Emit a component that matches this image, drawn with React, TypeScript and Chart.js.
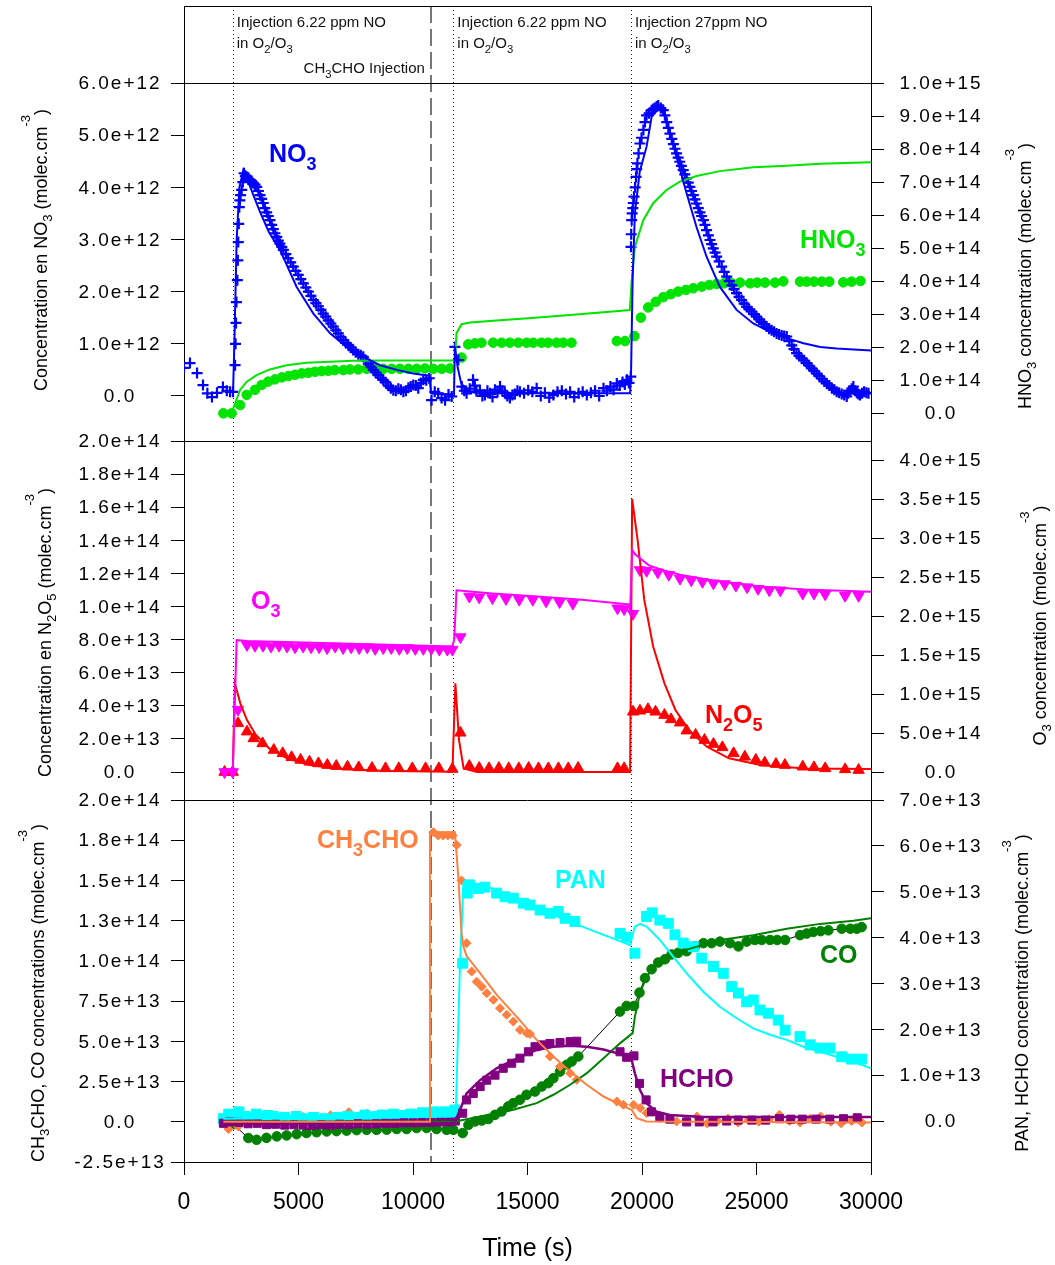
import React, { useEffect, useRef } from "react";
import { Chart, registerables } from "chart.js";

Chart.register(...registerables);

const FONT = '"Liberation Sans", Arial, Helvetica, sans-serif';

// ---------------- axes / ticks ----------------
const TIME_MIN = 0;
const TIME_MAX = 30000;
const TIME_TICKS = [0, 5000, 10000, 15000, 20000, 25000, 30000];
const EVENTS_DOTTED = [2130, 11760, 19515];
const EVENTS_DASHED = [10780];

// tick values are in axis units; the multiplier gives molec.cm-3
const NO3_TICKS = [0, 1, 2, 3, 4, 5, 6]; // x1e12
const HNO3_TICKS = [0, 1, 2, 3, 4, 5, 6, 7, 8, 9, 10]; // x1e14
const N2O5_TICKS = [0, 2, 4, 6, 8, 10, 12, 14, 16, 18, 20]; // x1e13
const O3_TICKS = [0, 0.5, 1, 1.5, 2, 2.5, 3, 3.5, 4]; // x1e15
const CHO_TICKS = [-2.5, 0, 2.5, 5, 7.5, 10, 12.5, 15, 17.5, 20]; // x1e13
const PAN_TICKS = [0, 1, 2, 3, 4, 5, 6, 7]; // x1e13

// ---------------- data: [time (s), value in axis units] ----------------
// NO3 (x1e12 molec/cm3)
const NO3_MEAS: [number, number][] = [
  [0, 0.54], [260, 0.63], [570, 0.44], [830, 0.21], [1020, 0.05], [1220, -0.02], [1440, 0.06], [1700, 0.17],
  [1870, 0.1], [2010, 0.08], [2140, 0.08], [2230, 0.59], [2250, 1.0], [2270, 1.4], [2290, 1.8], [2330, 2.22],
  [2350, 2.6], [2370, 2.95], [2390, 3.3], [2415, 3.62], [2440, 3.75], [2470, 3.85], [2520, 3.95], [2570, 4.1],
  [2620, 4.27], [2680, 4.22], [2750, 4.2], [2810, 4.15], [2880, 4.14], [2950, 4.12], [3030, 4.08], [3100, 4.05],
  [3175, 4.01], [3250, 3.93], [3320, 3.85], [3390, 3.78], [3460, 3.7], [3530, 3.6], [3610, 3.52], [3680, 3.45],
  [3755, 3.37], [3830, 3.28], [3900, 3.2], [3970, 3.12], [4050, 3.05], [4120, 2.98], [4190, 2.92], [4270, 2.86],
  [4340, 2.8], [4450, 2.72], [4550, 2.64], [4660, 2.56], [4770, 2.48], [4880, 2.4], [4990, 2.32], [5100, 2.24],
  [5210, 2.16], [5320, 2.08], [5430, 2.0], [5540, 1.92], [5650, 1.84], [5760, 1.78], [5870, 1.72], [5980, 1.65],
  [6080, 1.58], [6190, 1.52], [6300, 1.45], [6410, 1.39], [6520, 1.33], [6630, 1.26], [6740, 1.2], [6850, 1.13],
  [6960, 1.07], [7060, 1.02], [7170, 0.98], [7280, 0.93], [7390, 0.88], [7500, 0.84], [7610, 0.8], [7720, 0.78],
  [7830, 0.75], [7940, 0.68], [8050, 0.62], [8160, 0.56], [8270, 0.5], [8370, 0.45], [8480, 0.4], [8590, 0.35],
  [8700, 0.31], [8810, 0.26], [8920, 0.2], [9030, 0.15], [9140, 0.11], [9250, 0.1], [9360, 0.14], [9470, 0.12],
  [9580, 0.08], [9690, 0.1], [9800, 0.16], [9900, 0.18], [10010, 0.21], [10120, 0.2], [10230, 0.15],
  [10340, 0.25], [10450, 0.31], [10580, 0.3], [10710, 0.34], [10810, -0.08], [10950, 0.08], [11100, 0.05],
  [11250, -0.04], [11400, -0.08], [11550, 0.03], [11690, -0.01], [11830, 0.94], [11980, 0.69], [12130, 0.18],
  [12240, 0.1], [12340, 0.05], [12480, 0.14], [12620, 0.31], [12700, 0.2], [12770, 0.09], [12920, 0.11],
  [13030, 0.0], [13140, 0.02], [13250, 0.1], [13360, 0.05], [13470, -0.02], [13580, 0.12], [13690, 0.08],
  [13800, 0.18], [13900, 0.1], [14010, 0.06], [14120, 0.0], [14230, -0.04], [14340, 0.02], [14450, 0.04],
  [14560, 0.1], [14670, 0.08], [14850, 0.05], [15030, 0.11], [15210, 0.08], [15400, 0.15], [15580, 0.0],
  [15760, 0.06], [15950, -0.03], [16130, 0.02], [16310, 0.08], [16500, 0.1], [16680, 0.04], [16860, 0.08],
  [17040, -0.02], [17230, 0.05], [17410, 0.08], [17590, 0.02], [17770, 0.06], [17950, 0.1], [18130, 0.0],
  [18320, 0.15], [18470, 0.1], [18620, 0.18], [18760, 0.12], [18900, 0.24], [19030, 0.2], [19150, 0.27],
  [19250, 0.22], [19340, 0.31], [19430, 0.25], [19510, 0.37], [19520, 2.86], [19530, 3.1], [19550, 3.37],
  [19570, 3.5], [19600, 3.6], [19620, 3.7], [19650, 3.82], [19700, 4.0], [19740, 4.2], [19770, 4.35],
  [19800, 4.46], [19850, 4.65], [19910, 4.84], [19980, 4.95], [20060, 5.1], [20130, 5.25], [20200, 5.38],
  [20310, 5.42], [20420, 5.48], [20490, 5.5], [20560, 5.52], [20640, 5.55], [20710, 5.57], [20820, 5.52],
  [20930, 5.48], [21000, 5.38], [21080, 5.25], [21150, 5.14], [21220, 5.03], [21300, 4.93], [21370, 4.83],
  [21440, 4.74], [21510, 4.65], [21580, 4.57], [21650, 4.49], [21720, 4.41], [21800, 4.33], [21870, 4.25],
  [21950, 4.17], [22020, 4.09], [22090, 4.01], [22160, 3.93], [22240, 3.85], [22310, 3.77], [22380, 3.69],
  [22460, 3.6], [22530, 3.52], [22600, 3.45], [22680, 3.37], [22750, 3.28], [22820, 3.18], [22900, 3.08],
  [22970, 2.99], [23040, 2.91], [23110, 2.83], [23190, 2.75], [23260, 2.67], [23370, 2.58], [23480, 2.48],
  [23590, 2.38], [23700, 2.29], [23810, 2.2], [23920, 2.12], [24020, 2.05], [24130, 1.97], [24240, 1.9],
  [24350, 1.84], [24460, 1.77], [24570, 1.71], [24680, 1.66], [24790, 1.62], [24900, 1.57], [25000, 1.52],
  [25110, 1.47], [25220, 1.42], [25330, 1.38], [25440, 1.33], [25550, 1.29], [25660, 1.26], [25770, 1.23],
  [25880, 1.2], [25990, 1.18], [26100, 1.16], [26210, 1.15], [26320, 1.14], [26430, 1.05], [26540, 0.97],
  [26640, 0.9], [26750, 0.82], [26860, 0.77], [26970, 0.72], [27080, 0.68], [27190, 0.63], [27300, 0.58],
  [27410, 0.53], [27520, 0.48], [27630, 0.43], [27740, 0.38], [27850, 0.33], [27960, 0.28], [28070, 0.24],
  [28180, 0.2], [28290, 0.15], [28400, 0.12], [28500, 0.08], [28610, 0.06], [28720, 0.04], [28830, 0.02],
  [28940, -0.01], [29000, 0.05], [29090, 0.1], [29160, 0.14], [29230, 0.18], [29300, 0.1], [29380, 0.06],
  [29450, 0.04], [29520, 0.02], [29610, 0.05], [29700, 0.08], [29800, 0.06], [29890, 0.05],
];
const NO3_MODEL: [number, number][] = [
  [2140, 0.05], [2200, 1.0], [2300, 3.0], [2420, 4.0], [2590, 4.33], [2900, 4.0], [3300, 3.55], [3700, 3.15],
  [4190, 2.8], [4920, 2.09], [5650, 1.58], [6380, 1.2], [7100, 0.94], [7830, 0.75], [8560, 0.59], [9290, 0.5],
  [10010, 0.43], [10710, 0.39], [10790, 0.05], [11790, 0.02], [11830, 0.95], [11950, 0.55], [12100, 0.25],
  [12350, 0.1], [12800, 0.05], [19480, 0.05], [19520, 0.4], [19590, 2.22], [19690, 3.5], [19900, 4.3],
  [20200, 4.78], [20420, 5.35], [20780, 5.54], [21070, 5.29], [21510, 4.58], [21950, 3.88], [22380, 3.24],
  [22820, 2.67], [23400, 2.09], [24130, 1.65], [24860, 1.39], [25590, 1.23], [26320, 1.11], [27050, 1.01],
  [27780, 0.94], [28500, 0.91], [30000, 0.87],
];
// HNO3 (x1e14)
const HNO3_MEAS: [number, number][] = [
  [1720, -0.01], [2080, -0.01], [2450, 0.24], [2740, 0.55], [3100, 0.7], [3390, 0.85], [3680, 0.95], [3970, 1.02],
  [4270, 1.08], [4560, 1.12], [4850, 1.16], [5140, 1.2], [5430, 1.22], [5720, 1.25], [6010, 1.27], [6300, 1.28],
  [6590, 1.3], [6960, 1.3], [7250, 1.32], [7610, 1.32], [7980, 1.34], [8340, 1.34], [8700, 1.34], [9070, 1.34],
  [9430, 1.34], [9800, 1.34], [10160, 1.34], [10520, 1.35], [10880, 1.34], [11250, 1.34], [11610, 1.35],
  [12120, 1.68], [12410, 2.08], [12700, 2.11], [12990, 2.13], [13500, 2.13], [13870, 2.13], [14230, 2.13],
  [14600, 2.13], [14960, 2.13], [15250, 2.13], [15610, 2.13], [15900, 2.13], [16270, 2.13], [16560, 2.13],
  [16920, 2.13], [18900, 2.18], [19260, 2.18], [19670, 2.33], [19950, 2.89], [20270, 3.2], [20600, 3.37],
  [20930, 3.51], [21260, 3.6], [21580, 3.68], [21920, 3.73], [22240, 3.78], [22610, 3.83], [22940, 3.88],
  [23260, 3.91], [23580, 3.93], [23910, 3.93], [24280, 3.95], [24720, 3.93], [25030, 3.95], [25370, 3.95],
  [25810, 3.95], [26170, 3.99], [26900, 3.98], [27190, 3.98], [27510, 3.98], [27850, 3.98], [28180, 3.98],
  [28790, 3.96], [29150, 3.98], [29540, 4.0],
];
const HNO3_MODEL: [number, number][] = [
  [2140, 0.0], [2150, 0.14], [2450, 0.7], [2740, 0.95], [3170, 1.15], [3750, 1.32], [4480, 1.45], [5350, 1.52],
  [6370, 1.55], [7390, 1.58], [8560, 1.59], [11830, 1.59], [11900, 2.42], [12120, 2.69], [12490, 2.74],
  [13650, 2.8], [15040, 2.87], [17000, 2.98], [19470, 3.12], [19550, 4.03], [19690, 5.04], [20060, 5.85],
  [20480, 6.35], [21070, 6.76], [21650, 7.01], [22380, 7.18], [23400, 7.33], [24860, 7.45], [26320, 7.49],
  [27780, 7.55], [30000, 7.6],
];
// N2O5 (x1e13)
const N2O5_MEAS: [number, number][] = [
  [1770, 0], [2130, 0], [2360, 2.94], [2750, 2.44], [3040, 2.03], [3430, 1.73], [3920, 1.33], [4310, 1.13],
  [4700, 0.89], [5090, 0.73], [5480, 0.62], [5870, 0.52], [6260, 0.42], [6650, 0.36], [7140, 0.32], [7630, 0.28],
  [8210, 0.24], [8800, 0.22], [9380, 0.22], [9970, 0.22], [10550, 0.22], [11130, 0.22], [11720, 0.18],
  [12070, 2.37], [12460, 0.36], [12890, 0.24], [13320, 0.22], [13750, 0.24], [14180, 0.22], [14620, 0.22],
  [15050, 0.24], [15480, 0.22], [15910, 0.22], [16350, 0.22], [16780, 0.22], [17210, 0.24], [18930, 0.22],
  [19220, 0.22], [19610, 3.64], [19910, 3.7], [20260, 3.79], [20590, 3.64], [20980, 3.44], [21270, 3.18],
  [21660, 2.98], [21950, 2.5], [22340, 2.24], [22730, 1.93], [23120, 1.69], [23510, 1.49], [24000, 1.13],
  [24490, 0.92], [24970, 0.73], [25360, 0.56], [25850, 0.48], [26240, 0.42], [27020, 0.32], [27510, 0.28],
  [28000, 0.22], [28870, 0.16], [29460, 0.12],
];
const N2O5_MODEL: [number, number][] = [
  [2130, 0], [2220, 5.36], [2460, 4.15], [2750, 3.14], [3140, 2.24], [3720, 1.43], [4500, 0.83], [5480, 0.42],
  [6650, 0.22], [8600, 0.08], [11720, 0.02], [11850, 5.36], [12010, 1.93], [12210, 0.22], [12800, 0.0],
  [19480, 0.0], [19570, 16.5], [19810, 14.0], [20100, 10.4], [20490, 7.57], [20980, 5.36], [21460, 3.75],
  [22050, 2.54], [22830, 1.53], [23800, 0.83], [25170, 0.42], [27120, 0.22], [30000, 0.18],
];
// O3 (x1e15)
const O3_MEAS: [number, number][] = [
  [1770, 0], [2130, 0], [2360, 0.8], [2750, 1.63], [3100, 1.62], [3450, 1.62], [3800, 1.61], [4150, 1.62],
  [4500, 1.61], [4850, 1.6], [5200, 1.61], [5550, 1.6], [5900, 1.6], [6250, 1.59], [6600, 1.61], [6950, 1.59],
  [7300, 1.6], [7650, 1.59], [8000, 1.6], [8350, 1.58], [8700, 1.59], [9050, 1.59], [9400, 1.58], [9750, 1.59],
  [10100, 1.58], [10450, 1.58], [10800, 1.58], [11150, 1.57], [11500, 1.57], [11720, 1.57], [12070, 1.73],
  [12460, 2.25], [12890, 2.24], [13470, 2.23], [14060, 2.22], [14640, 2.21], [15230, 2.21], [15810, 2.19],
  [16400, 2.18], [16980, 2.16], [18930, 2.1], [19220, 2.09], [19610, 2.03], [19910, 2.59], [20200, 2.58],
  [20690, 2.56], [21170, 2.53], [21660, 2.48], [22150, 2.46], [22640, 2.44], [23120, 2.42], [23610, 2.41],
  [24100, 2.39], [24590, 2.37], [25070, 2.35], [25560, 2.33], [26040, 2.33], [27020, 2.29], [27510, 2.29],
  [28000, 2.28], [28870, 2.26], [29460, 2.26],
];
const O3_MODEL: [number, number][] = [
  [2130, 0], [2220, 0.9], [2300, 1.69], [2750, 1.68], [11720, 1.61], [11800, 1.7], [11900, 2.33], [13470, 2.29],
  [15420, 2.25], [17370, 2.21], [19420, 2.15], [19480, 2.06], [19570, 2.85], [19670, 2.8], [19910, 2.74],
  [20300, 2.65], [20880, 2.59], [21660, 2.53], [23220, 2.45], [25170, 2.38], [27120, 2.34], [30000, 2.31],
];
// CH3CHO (x1e13, left axis)
const CH3CHO_MEAS: [number, number][] = [
  [1720, 0.0], [1940, -0.45], [2370, -0.29], [2800, 0.1], [3200, 0.2], [3600, 0.1], [4000, 0.3], [4400, 0.2],
  [4800, 0.2], [5200, 0.3], [5600, 0.1], [6000, 0.2], [6400, 0.4], [6800, 0.3], [7200, 0.6], [7600, 0.3],
  [8000, 0.5], [8400, 0.3], [8800, 0.4], [9200, 0.3], [9600, 0.4], [10000, 0.3], [10400, 0.4], [10650, 0.4],
  [10890, 18.0], [11100, 17.8], [11310, 17.8], [11520, 17.8], [11730, 17.8], [11910, 17.2], [12120, 15.0],
  [12340, 11.1], [12560, 9.34], [12780, 8.71], [13000, 8.4], [13220, 7.99], [13510, 7.58], [13800, 7.06],
  [14090, 6.65], [14380, 6.23], [14670, 5.71], [14970, 5.51], [15110, 5.45], [15550, 4.68], [15980, 4.06],
  [16420, 3.43], [16860, 3.02], [17150, 2.61], [18900, 1.26], [19190, 1.06], [19630, 1.06], [19920, 0.85],
  [20200, 0.54], [20780, 0.23], [21510, 0.02], [21950, 0.1], [22400, 0.33], [22850, -0.1], [23300, 0.05],
  [23750, 0.2], [24200, -0.05], [24650, 0.1], [25100, 0.0], [25550, 0.15], [26000, 0.43], [26450, 0.05],
  [26900, -0.05], [27350, 0.2], [27800, 0.33], [28250, 0.0], [28700, -0.1], [29150, 0.05], [29600, -0.05],
];
const CH3CHO_MODEL: [number, number][] = [
  [1720, 0.0], [10700, 0.0], [10740, 18.0], [11830, 18.0], [11980, 15.2], [12120, 11.7], [12200, 10.9],
  [12340, 10.3], [12930, 9.24], [13650, 7.9], [14670, 6.3], [15400, 5.09], [16130, 4.06], [16860, 3.12],
  [17590, 2.3], [18320, 1.57], [19050, 1.06], [19550, 0.75], [19770, 0.23], [20200, 0.02], [30000, -0.04],
];
// CO (x1e13, left axis)
const CO_MEAS: [number, number][] = [
  [1720, 0.0], [2150, -0.15], [2810, -1.01], [3170, -1.12], [3600, -1.0], [4050, -0.91], [4480, -0.85],
  [4920, -0.77], [5350, -0.7], [5790, -0.65], [6230, -0.6], [6660, -0.58], [7100, -0.55], [7540, -0.52],
  [7980, -0.5], [8410, -0.5], [8850, -0.49], [9290, -0.45], [9720, -0.45], [10160, -0.39], [10600, -0.39],
  [11030, -0.45], [11470, -0.5], [11760, -0.5], [12170, -0.7], [12420, -0.19], [12710, 0.02], [13000, 0.08],
  [13290, 0.17], [13580, 0.43], [13870, 0.64], [14160, 0.95], [14380, 1.16], [14670, 1.37], [14960, 1.68],
  [15330, 1.88], [15620, 2.19], [15910, 2.4], [16130, 2.71], [16420, 3.12], [16710, 3.54], [16930, 3.75],
  [17220, 4.06], [19040, 6.85], [19330, 7.2], [19650, 7.2], [19890, 8.03], [20130, 8.93], [20420, 9.48],
  [20710, 9.9], [21000, 10.1], [21290, 10.4], [21580, 10.5], [21950, 10.6], [22310, 10.9], [22680, 11.1],
  [23040, 11.1], [23400, 11.2], [23840, 11.1], [24210, 10.9], [24570, 11.2], [24930, 11.3], [25230, 11.3],
  [25590, 11.3], [25900, 11.3], [26250, 11.3], [26900, 11.6], [27190, 11.7], [27480, 11.8], [27800, 11.85],
  [28140, 11.9], [28720, 12.0], [29100, 12.0], [29380, 12.0], [29590, 12.1],
];
const CO_MODEL: [number, number][] = [
  [1720, 0.0], [11800, 0.0], [12930, 0.33], [14380, 0.75], [15400, 1.16], [16130, 1.68], [16860, 2.3],
  [17590, 3.02], [18320, 3.95], [19050, 4.89], [19590, 5.51], [19690, 6.54], [19910, 7.99], [20200, 9.02],
  [20640, 9.86], [21220, 10.4], [21950, 10.7], [23400, 11.3], [24860, 11.6], [26320, 12.0], [27780, 12.3],
  [29230, 12.5], [30000, 12.65],
];
// PAN (x1e13, right axis)
const PAN_MEAS: [number, number][] = [
  [1720, 0.05], [1950, 0.15], [2150, 0.13], [2400, 0.2], [2650, 0.1], [2900, 0.08], [3150, 0.15], [3400, 0.05],
  [3650, 0.12], [3900, 0.1], [4150, 0.05], [4400, 0.08], [4650, 0.02], [4900, 0.1], [5150, 0.05], [5400, 0.02],
  [5650, 0.08], [5900, 0.0], [6150, 0.05], [6400, 0.02], [6650, 0.08], [6900, 0.05], [7150, 0.1], [7400, 0.05],
  [7650, 0.08], [7900, 0.13], [8150, 0.08], [8400, 0.1], [8650, 0.13], [8900, 0.1], [9150, 0.15], [9400, 0.1],
  [9650, 0.12], [9900, 0.15], [10150, 0.13], [10400, 0.18], [10650, 0.15], [10900, 0.2], [11150, 0.18],
  [11400, 0.2], [11600, 0.18], [11830, 0.24], [12170, 3.44], [12370, 4.97], [12460, 5.15], [12850, 5.07],
  [13140, 5.1], [13650, 4.97], [14020, 4.89], [14380, 4.86], [14820, 4.75], [15110, 4.71], [15550, 4.6],
  [15980, 4.53], [16340, 4.57], [16640, 4.42], [17070, 4.35], [19040, 4.09], [19330, 4.01], [19690, 3.66],
  [20200, 4.46], [20450, 4.54], [20780, 4.38], [21150, 4.31], [21440, 4.06], [21800, 3.88], [22240, 3.8],
  [22610, 3.55], [23120, 3.37], [23550, 3.22], [23920, 2.93], [24210, 2.79], [24570, 2.6], [24860, 2.64],
  [25150, 2.42], [25520, 2.35], [25950, 2.2], [26250, 1.98], [26900, 1.84], [27340, 1.66], [27770, 1.59],
  [28210, 1.59], [28720, 1.4], [29150, 1.35], [29590, 1.35],
];
const PAN_MODEL: [number, number][] = [
  [1720, 0.05], [11800, 0.1], [11870, 0.2], [12050, 3.37], [12200, 5.18], [12340, 5.22], [12930, 5.15],
  [13650, 5.04], [14380, 4.89], [15040, 4.75], [16130, 4.49], [17590, 4.2], [19470, 3.84], [19690, 4.24],
  [19910, 4.3], [20200, 4.24], [20780, 3.95], [21370, 3.58], [21950, 3.22], [22680, 2.82], [23400, 2.49],
  [24130, 2.24], [24860, 2.02], [25590, 1.88], [26320, 1.77], [27050, 1.62], [27780, 1.51], [28500, 1.4],
  [29230, 1.29], [30000, 1.15],
];
// HCHO (x1e13, right axis)
const HCHO_MEAS: [number, number][] = [
  [1720, -0.05], [2000, -0.02], [2400, -0.03], [2800, -0.06], [3200, -0.05], [3600, -0.08], [4000, -0.07],
  [4400, -0.09], [4800, -0.08], [5200, -0.09], [5600, -0.1], [6000, -0.08], [6400, -0.09], [6800, -0.07],
  [7200, -0.08], [7600, -0.06], [8000, -0.07], [8400, -0.06], [8800, -0.05], [9200, -0.05], [9600, -0.04],
  [10000, -0.04], [10400, -0.03], [10800, -0.03], [11200, -0.02], [11600, -0.02], [11850, 0.0], [12170, 0.17],
  [12340, 0.46], [12630, 0.6], [12930, 0.75], [13220, 0.89], [13580, 1.0], [13940, 1.15], [14310, 1.26],
  [14670, 1.37], [15040, 1.51], [15330, 1.62], [15620, 1.66], [15980, 1.69], [16420, 1.71], [16860, 1.73],
  [17150, 1.74], [19040, 1.51], [19330, 1.39], [19650, 1.42], [19890, 0.82], [20180, 0.46], [20420, 0.2],
  [20780, 0.09], [21220, 0.04], [21950, -0.02], [22500, -0.02], [23100, -0.02], [23700, 0.0], [24200, 0.02],
  [24800, 0.02], [25400, 0.02], [26000, 0.05], [26500, 0.04], [27000, 0.04], [27600, 0.04], [28200, 0.04],
  [28800, 0.05], [29400, 0.07],
];
const HCHO_MODEL: [number, number][] = [
  [1720, -0.05], [11800, -0.05], [12050, 0.24], [12340, 0.6], [12930, 0.89], [13650, 1.15], [14380, 1.33],
  [15400, 1.55], [16130, 1.62], [16860, 1.64], [17590, 1.62], [18320, 1.56], [19050, 1.46], [19550, 1.33],
  [19690, 1.04], [19910, 0.68], [20200, 0.39], [20640, 0.2], [21220, 0.13], [22680, 0.09], [30000, 0.09],
];

// ---------------- colours ----------------
const C_NO3 = "#0000FF";
const C_HNO3 = "#00E400";
const C_O3 = "#FF00FF";
const C_N2O5 = "#FF0000";
const C_CH3CHO = "#FF8040";
const C_PAN = "#00FFFF";
const C_HCHO = "#800080";
const C_CO = "#008000";

// ---------------- text helpers ----------------
type Seg = [string, number]; // 0 normal, 1 subscript, 2 superscript

function fontStr(size: number, bold: boolean) {
  return `${bold ? "bold " : ""}${size}px ${FONT}`;
}
function richWidth(ctx: CanvasRenderingContext2D, segs: Seg[], size: number, bold: boolean, small: number) {
  let w = 0;
  for (const [s, k] of segs) {
    ctx.font = fontStr(k ? size * small : size, bold);
    w += ctx.measureText(s).width;
  }
  return w;
}
function drawRich(
  ctx: CanvasRenderingContext2D, segs: Seg[], x: number, y: number, size: number, bold: boolean,
  color: string, small: number, subDy: number, supDy: number
) {
  ctx.fillStyle = color;
  ctx.textAlign = "left";
  ctx.textBaseline = "alphabetic";
  let cx = x;
  for (const [s, k] of segs) {
    ctx.font = fontStr(k ? size * small : size, bold);
    const dy = k === 1 ? size * subDy : k === 2 ? -size * supDy : 0;
    ctx.fillText(s, cx, y + dy);
    cx += ctx.measureText(s).width;
  }
}

const TITLE_P1L: Seg[] = [["Concentration en NO", 0], ["3", 1], [" (molec.cm", 0], ["-3", 2], [")", 0]];
const TITLE_P2L: Seg[] = [["Concentration en N", 0], ["2", 1], ["O", 0], ["5", 1], [" (molec.cm", 0], ["-3", 2], [")", 0]];
const TITLE_P3L: Seg[] = [["CH", 0], ["3", 1], ["CHO, CO concentrations (molec.cm", 0], ["-3", 2], [")", 0]];
const TITLE_P1R: Seg[] = [["HNO", 0], ["3", 1], [" concentration (molec.cm", 0], ["-3", 2], [")", 0]];
const TITLE_P2R: Seg[] = [["O", 0], ["3", 1], [" concentration (molec.cm", 0], ["-3", 2], [")", 0]];
const TITLE_P3R: Seg[] = [["PAN, HCHO concentration (molec.cm", 0], ["-3", 2], [")", 0]];

const SPECIES_LABELS: { segs: Seg[]; color: string; x: number; y: number }[] = [
  { segs: [["NO", 0], ["3", 1]], color: C_NO3, x: 269, y: 162 },
  { segs: [["HNO", 0], ["3", 1]], color: C_HNO3, x: 800, y: 248 },
  { segs: [["O", 0], ["3", 1]], color: C_O3, x: 251, y: 609 },
  { segs: [["N", 0], ["2", 1], ["O", 0], ["5", 1]], color: C_N2O5, x: 705, y: 723 },
  { segs: [["CH", 0], ["3", 1], ["CHO", 0]], color: C_CH3CHO, x: 317, y: 848 },
  { segs: [["PAN", 0]], color: C_PAN, x: 555, y: 888 },
  { segs: [["CO", 0]], color: C_CO, x: 820, y: 963 },
  { segs: [["HCHO", 0]], color: C_HCHO, x: 660, y: 1087 },
];

const BOX_TOP = 6;

const overlayPlugin = {
  id: "overlay",
  beforeDatasetsDraw(chart: any) {
    const { ctx, chartArea, scales } = chart;
    const xs = scales.x;
    ctx.save();
    ctx.strokeStyle = "#222";
    ctx.lineWidth = 1;
    ctx.setLineDash([1, 3]);
    for (const t of EVENTS_DOTTED) {
      const px = Math.round(xs.getPixelForValue(t)) + 0.5;
      ctx.beginPath();
      ctx.moveTo(px, BOX_TOP);
      ctx.lineTo(px, chartArea.bottom);
      ctx.stroke();
    }
    ctx.strokeStyle = "#777";
    ctx.lineWidth = 2;
    ctx.setLineDash([17, 6]);
    for (const t of EVENTS_DASHED) {
      const px = Math.round(xs.getPixelForValue(t));
      ctx.beginPath();
      ctx.moveTo(px, BOX_TOP);
      ctx.lineTo(px, chartArea.bottom);
      ctx.stroke();
    }
    ctx.restore();
  },
  afterDraw(chart: any) {
    const { ctx, chartArea, scales } = chart;
    const L = chartArea.left;
    const R = chartArea.right;
    ctx.save();
    // frames
    ctx.strokeStyle = "#000";
    ctx.lineWidth = 1;
    ctx.setLineDash([]);
    const hline = (y: number) => {
      const yy = Math.round(y) + 0.5;
      ctx.beginPath();
      ctx.moveTo(L, yy);
      ctx.lineTo(R, yy);
      ctx.stroke();
    };
    hline(chartArea.top);
    hline(scales.yNO3.bottom);
    hline(scales.yN2O5.bottom);
    ctx.strokeRect(Math.round(L) + 0.5, BOX_TOP + 0.5, Math.round(R - L), Math.round(chartArea.top - BOX_TOP));

    // y tick labels
    const tickLabels = (scale: any, mult: number, cx: number) => {
      ctx.font = `19px ${FONT}`;
      (ctx as any).letterSpacing = "2px";
      ctx.fillStyle = "#000";
      ctx.textAlign = "center";
      ctx.textBaseline = "middle";
      for (const t of scale.ticks) {
        const y = scale.getPixelForValue(t.value) + 1;
        const label = t.value === 0 ? "0.0" : (t.value * mult).toExponential(1);
        ctx.fillText(label, cx + 1, y);
      }
      (ctx as any).letterSpacing = "0px";
    };
    tickLabels(scales.yNO3, 1e12, 119);
    tickLabels(scales.yN2O5, 1e13, 119);
    tickLabels(scales.yCHO, 1e13, 119);
    tickLabels(scales.yHNO3, 1e14, 940);
    tickLabels(scales.yO3, 1e15, 940);
    tickLabels(scales.yPAN, 1e13, 940);

    // rotated axis titles
    const vTitle = (segs: Seg[], baseX: number, cy: number) => {
      const size = 18;
      const w = richWidth(ctx, segs, size, false, 0.72);
      ctx.save();
      ctx.translate(baseX, cy);
      ctx.rotate(-Math.PI / 2);
      drawRich(ctx, segs, -w / 2, 0, size, false, "#000", 0.72, 0.28, 0.95);
      ctx.restore();
    };
    const mid = (s: any) => (s.top + s.bottom) / 2;
    vTitle(TITLE_P1L, 47, mid(scales.yNO3) - 12);
    vTitle(TITLE_P2L, 51, mid(scales.yN2O5) + 12);
    vTitle(TITLE_P3L, 44, mid(scales.yCHO) + 12);
    vTitle(TITLE_P1R, 1031, mid(scales.yHNO3) + 14);
    vTitle(TITLE_P2R, 1046, mid(scales.yO3) + 5);
    vTitle(TITLE_P3R, 1028, mid(scales.yPAN) + 12);

    // species labels
    for (const lab of SPECIES_LABELS) {
      drawRich(ctx, lab.segs, lab.x, lab.y, 25, true, lab.color, 0.72, 0.32, 0.5);
    }

    // annotation box text
    const ann = (segs: Seg[], x: number, y: number, alignRight = false) => {
      const size = 15;
      let xx = x;
      if (alignRight) xx = x - richWidth(ctx, segs, size, false, 0.75);
      drawRich(ctx, segs, xx, y, size, false, "#111", 0.75, 0.3, 0.5);
    };
    const xs = scales.x;
    const line1 = ["Injection 6.22 ppm NO", "Injection 6.22 ppm NO", "Injection 27ppm NO"];
    EVENTS_DOTTED.forEach((t, i) => {
      const x0 = xs.getPixelForValue(t) + 4;
      ann([[line1[i], 0]], x0, 27);
      ann([["in O", 0], ["2", 1], ["/O", 0], ["3", 1]], x0, 48);
    });
    ann([["CH", 0], ["3", 1], ["CHO Injection", 0]], xs.getPixelForValue(EVENTS_DASHED[0]) - 6, 73, true);

    // x title
    ctx.font = `25px ${FONT}`;
    ctx.fillStyle = "#000";
    ctx.textAlign = "center";
    ctx.textBaseline = "alphabetic";
    ctx.fillText("Time (s)", (L + R) / 2, 1256);
    ctx.restore();
  },
};

function yScale(position: "left" | "right", stack: string, stackWeight: number, weight: number,
  min: number, max: number, ticks: number[]) {
  return {
    type: "linear",
    position,
    stack,
    stackWeight,
    weight,
    min,
    max,
    afterBuildTicks: (s: any) => {
      s.ticks = ticks.map((v) => ({ value: v }));
    },
    afterFit: (s: any) => {
      s.width = 184;
    },
    ticks: { display: false },
    grid: { display: true, drawOnChartArea: false, drawTicks: true, tickLength: 13, color: "#000", lineWidth: 1 },
    border: { display: true, color: "#000", width: 1 },
  };
}

const toPts = (arr: [number, number][]) => arr.map(([x, y]) => ({ x, y }));

function lineDs(label: string, arr: [number, number][], color: string, axis: string, width = 2) {
  return {
    label, data: toPts(arr), yAxisID: axis, borderColor: color, backgroundColor: color,
    borderWidth: width, pointRadius: 0, showLine: true, tension: 0, fill: false,
  };
}
function markDs(label: string, arr: [number, number][], color: string, axis: string, style: string,
  radius: number, rotation = 0, borderWidth = 1) {
  return {
    label, data: toPts(arr), yAxisID: axis, showLine: false, pointStyle: style, pointRadius: radius,
    pointRotation: rotation, pointBackgroundColor: color, pointBorderColor: color, pointBorderWidth: borderWidth,
    borderColor: color, backgroundColor: color,
  };
}

export default function App() {
  const ref = useRef<HTMLCanvasElement>(null);
  useEffect(() => {
    if (!ref.current) return;
    const datasets: any[] = [
      lineDs("NO3 model", NO3_MODEL, C_NO3, "yNO3"),
      lineDs("HNO3 model", HNO3_MODEL, C_HNO3, "yHNO3"),
      lineDs("O3 model", O3_MODEL, C_O3, "yO3"),
      lineDs("N2O5 model", N2O5_MODEL, C_N2O5, "yN2O5"),
      lineDs("CH3CHO model", CH3CHO_MODEL, C_CH3CHO, "yCHO"),
      lineDs("PAN model", PAN_MODEL, C_PAN, "yPAN"),
      lineDs("HCHO model", HCHO_MODEL, C_HCHO, "yPAN", 2.5),
      lineDs("CO model", CO_MODEL, C_CO, "yCHO"),
      markDs("NO3", NO3_MEAS, C_NO3, "yNO3", "cross", 5.5, 0, 2.2),
      markDs("HNO3", HNO3_MEAS, C_HNO3, "yHNO3", "circle", 4.8),
      markDs("O3", O3_MEAS, C_O3, "yO3", "triangle", 6.5, 180),
      markDs("N2O5", N2O5_MEAS, C_N2O5, "yN2O5", "triangle", 6.5),
      markDs("HCHO", HCHO_MEAS, C_HCHO, "yPAN", "rect", 5.7),
      markDs("PAN", PAN_MEAS, C_PAN, "yPAN", "rect", 7),
      markDs("CH3CHO", CH3CHO_MEAS, C_CH3CHO, "yCHO", "rectRot", 4.5),
      {
        ...markDs("CO", CO_MEAS, C_CO, "yCHO", "circle", 4.8),
        showLine: true, borderColor: "#000", borderWidth: 1, tension: 0,
      },
    ];
    const chart = new Chart(ref.current, {
      type: "line",
      data: { datasets },
      options: {
        responsive: false,
        animation: false,
        events: [],
        layout: { padding: { top: 83, left: 0, right: 0, bottom: 0 } },
        plugins: { legend: { display: false }, tooltip: { enabled: false }, title: { display: false } },
        scales: {
          x: {
            type: "linear",
            position: "bottom",
            min: TIME_MIN,
            max: TIME_MAX,
            afterBuildTicks: (s: any) => {
              s.ticks = TIME_TICKS.map((v) => ({ value: v }));
            },
            afterFit: (s: any) => {
              s.height = 103;
            },
            ticks: {
              autoSkip: false, maxRotation: 0, padding: 14, color: "#000",
              font: { family: FONT, size: 23 },
              callback: (v: any) => String(v),
            },
            grid: { display: true, drawOnChartArea: false, drawTicks: true, tickLength: 13, color: "#000" },
            border: { display: true, color: "#000", width: 1 },
          },
          yNO3: yScale("left", "L", 358, 3, -0.863, 6, NO3_TICKS),
          yN2O5: yScale("left", "L", 359, 2, -1.69, 20, N2O5_TICKS),
          yCHO: yScale("left", "L", 362, 1, -2.5, 20, CHO_TICKS),
          yHNO3: yScale("right", "R", 358, 1, -0.848, 10, HNO3_TICKS),
          yO3: yScale("right", "R", 359, 2, -0.359, 4.244, O3_TICKS),
          yPAN: yScale("right", "R", 362, 3, -0.894, 7, PAN_TICKS),
        } as any,
      },
      plugins: [overlayPlugin as any],
    } as any);
    return () => chart.destroy();
  }, []);
  return (
    <div style={{ position: "absolute", left: 0, top: 0, width: 1055, height: 1265, background: "#fff" }}>
      <canvas ref={ref} width={1055} height={1265} style={{ display: "block", width: 1055, height: 1265 }} />
    </div>
  );
}
